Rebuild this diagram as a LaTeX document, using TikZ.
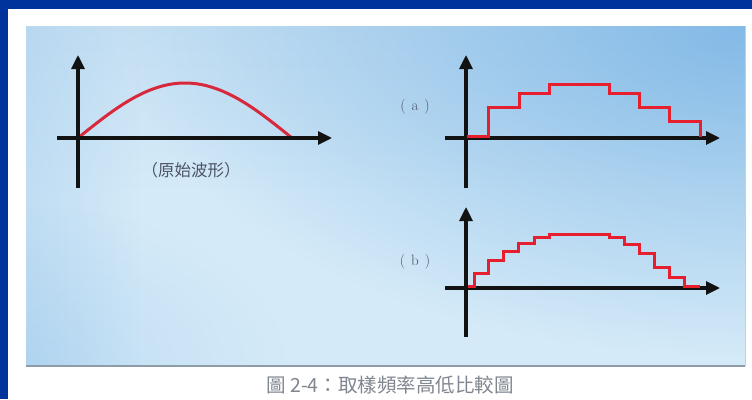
\documentclass[tikz,border=0pt]{standalone}
\usepackage{fontspec}
\newfontfamily\cjk{Noto Sans CJK TC}
\usetikzlibrary{arrows.meta,fadings}
\definecolor{frameblue}{HTML}{00339C}
\definecolor{axisblack}{HTML}{121212}
\definecolor{curvered}{HTML}{D8283C}
\definecolor{stepred}{HTML}{E61E2E}
\definecolor{labelgray}{HTML}{4E5468}
\definecolor{capgray}{HTML}{80868F}
\definecolor{bgbase}{HTML}{D4EAF8}
\definecolor{bgtop}{HTML}{C6E0F3}
\definecolor{bgdark}{HTML}{80B8E6}
\definecolor{bgleft}{HTML}{A8CEEE}
\definecolor{shadowline}{HTML}{8E9CAA}
\tikzfading[name=radfade, inner color=transparent!0, outer color=transparent!100]
\tikzfading[name=leftfade, left color=transparent!0, right color=transparent!100]
\tikzset{
  axis/.style={line width=3.2pt, draw=axisblack, -{Triangle[length=14pt,width=13pt]}},
  redcurve/.style={line width=3pt, draw=curvered, line cap=round},
  redstep/.style={line width=3pt, draw=stepred, line join=miter},
  plabel/.style={font=\cjk\fontsize{16.5}{19}\selectfont, text=labelgray, inner sep=0pt},
  abclabel/.style={font=\fontsize{15}{17}\selectfont, text=labelgray, inner sep=0pt},
  caplabel/.style={font=\cjk\fontsize{19.5}{22}\selectfont, text=capgray, inner sep=0pt},
}
\begin{document}
\begin{tikzpicture}[x=1pt,y=-1pt]
\useasboundingbox (0,0) rectangle (752,399);
\fill[white] (0,0) rectangle (752,399);
\fill[frameblue] (0,0) rectangle (752,9);
\fill[frameblue] (0,0) rectangle (8,399);
% panel
\shade[top color=bgtop, bottom color=bgbase, middle color=bgbase] (26,26) rectangle (745,366);
\begin{scope}
  \clip (26,26) rectangle (745,366);
  \fill[bgdark, path fading=radfade, opacity=0.95] (745,26) ellipse [x radius=620, y radius=330];
  \fill[bgleft, path fading=leftfade, opacity=0.45] (26,26) rectangle (140,366);
  \fill[bgdark, path fading=radfade, opacity=0.25] (26,366) ellipse [x radius=260, y radius=160];
\end{scope}
\draw[line width=1.6pt, draw=shadowline] (26,366) -- (745,366);
\draw[line width=1pt, draw=bgdark!60] (745,26) -- (745,366);
% left graph
\coordinate (l0) at (78,138);
\coordinate (lyb) at (78,188);
\coordinate (lyt) at (78,55);
\coordinate (lxl) at (57,138);
\coordinate (lxr) at (332,138);
\draw[redcurve] plot[domain=0:180, samples=80] ({78+\x/180*214},{138-55*sin(\x)});
\draw[axis] (lyb) -- (lyt);
\draw[axis] (lxl) -- (lxr);
\node[plabel] (orig) at (191,170) {（原始波形）};
% graph a
\coordinate (ayb) at (466,188);
\coordinate (ayt) at (466,55);
\coordinate (axl) at (445,138);
\coordinate (axr) at (720,138);
\draw[axis] (ayb) -- (ayt);
\draw[axis] (axl) -- (axr);
\draw[redstep] (467,136.5) -- (488,136.5) -- (488,107) -- (519,107) -- (519,93) -- (549,93) -- (549,84)
  -- (609,84) -- (609,93) -- (639,93) -- (639,107) -- (669,107) -- (669,121) -- (700,121) -- (700,137);
\node[abclabel] (la) at (415,107) {(\hspace{6pt}a\hspace{6pt})};
% graph b
\coordinate (byb) at (466,337);
\coordinate (byt) at (466,207);
\coordinate (bxl) at (445,288);
\coordinate (bxr) at (720,288);
\draw[axis] (byb) -- (byt);
\draw[axis] (bxl) -- (bxr);
\draw[redstep] (468,286.5) -- (474,286.5) -- (474,273) -- (488,273) -- (488,260) -- (503,260) -- (503,251)
  -- (518,251) -- (518,243) -- (534,243) -- (534,237) -- (549,237) -- (549,234) -- (609,234)
  -- (609,237) -- (624,237) -- (624,244) -- (639,244) -- (639,253) -- (654,253) -- (654,267)
  -- (669,267) -- (669,277) -- (684,277) -- (684,286.5) -- (700,286.5);
\node[abclabel] (lb) at (415,262) {(\hspace{6pt}b\hspace{6pt})};
% caption
\node[caplabel] (cap) at (390,385) {圖 2-4：取樣頻率高低比較圖};
\end{tikzpicture}
\end{document}
